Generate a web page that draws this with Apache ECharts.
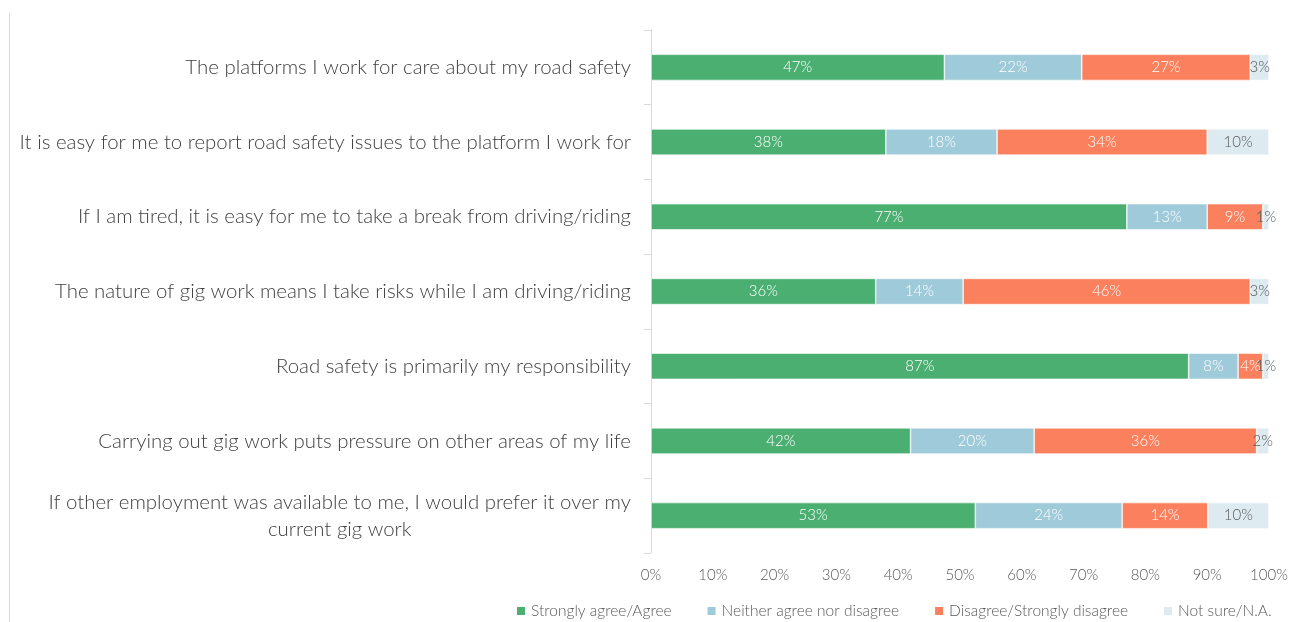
<!DOCTYPE html>
<html>
<head>
<meta charset="utf-8">
<script src="https://cdn.jsdelivr.net/npm/echarts@6/dist/echarts.min.js"></script>
<style>
  html, body { margin: 0; padding: 0; background: #ffffff; }
  #chart { width: 1292px; height: 622px; }
</style>
</head>
<body>
<div id="chart"></div>
<script>
// Survey statements, top to bottom
const categories = [
  'The platforms I work for care about my road safety',
  'It is easy for me to report road safety issues to the platform I work for',
  'If I am tired, it is easy for me to take a break from driving/riding',
  'The nature of gig work means I take risks while I am driving/riding',
  'Road safety is primarily my responsibility',
  'Carrying out gig work puts pressure on other areas of my life',
  'If other employment was available to me, I would prefer it over my\ncurrent gig work'
];

// Response shares (%) per statement
const agree    = [47, 38, 77, 36, 87, 42, 53];
const neutral  = [22, 18, 13, 14,  8, 20, 24];
const disagree = [27, 34,  9, 46,  4, 36, 14];
const notSure  = [ 3, 10,  1,  3,  1,  2, 10];

const seriesNames = [
  'Strongly agree/Agree',
  'Neither agree nor disagree',
  'Disagree/Strongly disagree',
  'Not sure/N.A.'
];

const xTicks = [0, 10, 20, 30, 40, 50, 60, 70, 80, 90, 100];

const colors = ['#4caf72', '#9fcad9', '#fb805e', '#ddebf1'];
const labelColors = ['#ffffff', '#ffffff', '#ffffff', '#595959'];

const FONT = 'Lato, "Open Sans", sans-serif';

// 100% stacked: each row is scaled to its own total
const rows = [agree, neutral, disagree, notSure];
const totals = categories.map((_, i) => rows.reduce((s, r) => s + r[i], 0));

const series = rows.map((arr, k) => ({
  name: seriesNames[k],
  type: 'bar',
  stack: 'share',
  barCategoryGap: '65%',
  itemStyle: { color: colors[k], borderColor: '#ffffff', borderWidth: 0.6 },
  label: {
    show: true,
    position: 'inside',
    color: labelColors[k],
    fontFamily: FONT,
    fontSize: 15,
    fontWeight: 300,
    formatter: p => p.data.raw + '%'
  },
  emphasis: { disabled: true },
  data: arr.map((v, i) => ({ value: v / totals[i] * 100, raw: v }))
}));

const chart = echarts.init(document.getElementById('chart'), null, { renderer: 'canvas' });

chart.setOption({
  animation: false,
  backgroundColor: '#ffffff',
  textStyle: { fontFamily: FONT },
  grid: { left: 651, right: 23, top: 30, bottom: 69, containLabel: false },
  xAxis: {
    type: 'value',
    min: xTicks[0],
    max: xTicks[xTicks.length - 1],
    interval: xTicks[1] - xTicks[0],
    axisLine: { show: false },
    axisTick: { show: false },
    splitLine: { show: false },
    axisLabel: {
      formatter: '{value}%',
      color: '#595959',
      fontSize: 15,
      fontWeight: 300,
      fontFamily: FONT,
      margin: 15
    }
  },
  yAxis: {
    type: 'category',
    inverse: true,
    data: categories,
    axisLine: { show: true, lineStyle: { color: '#d9d9d9', width: 1 } },
    axisTick: { show: true, length: 7, lineStyle: { color: '#d9d9d9' } },
    axisLabel: {
      margin: 20,
      color: '#404040',
      fontSize: 20.4,
      fontFamily: FONT,
      formatter: v => '{c|' + v + '}',
      rich: {
        c: { align: 'center', color: '#404040', fontSize: 20.4, fontWeight: 300, fontFamily: FONT, lineHeight: 27 }
      }
    }
  },
  legend: {
    data: seriesNames,
    left: 515,
    right: 0,
    top: 598,
    padding: [5, 0, 5, 0],
    icon: 'rect',
    itemWidth: 10,
    itemHeight: 10,
    itemGap: 34,
    textStyle: { color: '#595959', fontSize: 15.5, fontWeight: 300, fontFamily: FONT },
    selectedMode: false
  },
  graphic: [{
    type: 'line',
    shape: { x1: 9.5, y1: 13, x2: 9.5, y2: 622 },
    style: { stroke: '#d9d9d9', lineWidth: 1 },
    silent: true
  }],
  series: series
});
</script>
</body>
</html>
